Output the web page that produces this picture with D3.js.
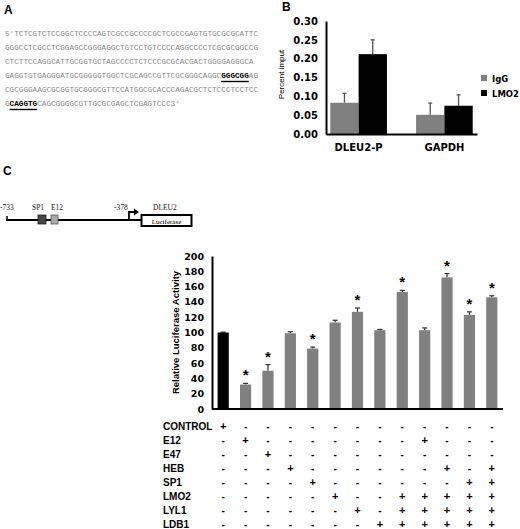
<!DOCTYPE html>
<html><head><meta charset="utf-8">
<script src="https://cdn.jsdelivr.net/npm/d3@7"></script>
<style>body{margin:0;background:#fff}svg{display:block}</style>
</head><body>
<script>
// ---------- DATA ----------
const seqLines = [
  [["5'TCTCGTCTCCGGCTCCCCAGTCGCCGCCCCGCTCGCCGAGTGTGCGCGCATTC", false]],
  [["GGGCCTCGCCTCGGAGCCGGGAGGCTGTCCTGTCCCCAGGCCCCTCGCGCGGCCG", false]],
  [["CTCTTCCAGGCATTGCGGTGCTAGCCCCTCTCCCGCGCACGACTGGGGAGGGCA", false]],
  [["GAGGTGTGAGGGATGCGGGGGTGGCTCGCAGCCGTTCGCGGGCAGGC", false], ["GGGCGG", true], ["AG", false]],
  [["CGCGGGAAGCGCGGTGCGGGCGTTCCATGGCGCACCCAGACGCTCTCCCTCCTCC", false]],
  [["G", false], ["CAGGTG", true], ["CAGCGGGGCGTTGCGCGAGCTCGAGTCCC3'", false]]
];

const chipGenes = ["DLEU2-P", "GAPDH"];
const chipSeries = ["IgG", "LMO2"];
const chipIgG = [0.083, 0.051];
const chipIgGErr = [0.025, 0.031];
const chipLMO2 = [0.212, 0.075];
const chipLMO2Err = [0.038, 0.029];
const chipTicks = [0, 0.05, 0.10, 0.15, 0.20, 0.25, 0.30];

const lucValues = [100, 32, 50, 99, 79, 113, 127, 103, 153, 103, 172, 123, 146];
const lucErrors = [0.5, 1.5, 8, 2, 2, 3, 5, 1, 2, 3, 5, 4, 2];
const lucStar = [false, true, true, false, true, false, true, false, true, false, true, true, true];
const lucTicks = [0, 20, 40, 60, 80, 100, 120, 140, 160, 180, 200];
const rowNames = ["CONTROL", "E12", "E47", "HEB", "SP1", "LMO2", "LYL1", "LDB1"];
const rowSigns = [
  "+------------",
  "-+-------+---",
  "--+----------",
  "---+------+-+",
  "----+------++",
  "-----+--+++++",
  "------+-+++++",
  "-------++++++"
];

// ---------- SVG ----------
const svg = d3.select("body").append("svg").attr("width", 520).attr("height", 529);
const bold = "'DejaVu Sans', Verdana, sans-serif";
const arial = "'Liberation Sans', Arial, sans-serif";
const serif = "'Liberation Serif', 'Times New Roman', serif";
const mono = "'Liberation Mono', 'Courier New', monospace";

// Panel labels
[["A", 4, 14], ["B", 282, 11], ["C", 3, 175]].forEach(([t, x, y]) =>
  svg.append("text").attr("x", x).attr("y", y).text(t)
    .attr("font-family", arial).attr("font-weight", "bold").attr("font-size", 12).attr("fill", "#000"));

// ---------- Panel A: sequence ----------
const seqG = svg.append("g");
const charW = 4.6;
seqLines.forEach((segs, i) => {
  const y = 36 + i * 14;
  let x = 5;
  const line = seqG.append("text").attr("y", y).attr("font-family", mono).attr("font-size", 7.6).attr("fill", "#8a8a8a");
  segs.forEach(([s, b]) => {
    const w = s.length * charW;
    const t = line.append("tspan").attr("x", x).text(s)
      .attr("textLength", w).attr("lengthAdjust", "spacingAndGlyphs");
    if (b) {
      t.attr("font-weight", "bold").attr("fill", "#000");
      seqG.append("line").attr("x1", x).attr("x2", x + w).attr("y1", y + 3.5).attr("y2", y + 3.5)
        .attr("stroke", "#000").attr("stroke-width", 1.4);
    }
    x += w;
  });
});

// ---------- Panel B: ChIP ----------
const bL = 326, bR = 477, bT = 21, bB = 134;
const yB = d3.scaleLinear().domain([0, 0.30]).range([bB, bT]);
const xB = d3.scaleBand().domain(chipGenes).range([bL, bR]).paddingInner(0.34).paddingOuter(0.05);
const xBs = d3.scaleBand().domain(chipSeries).range([0, xB.bandwidth()]);
const bG = svg.append("g");
const chipColors = {IgG: "#808080", LMO2: "#000"};
const chipData = chipGenes.map((g, i) => ({g, vals: [
  {s: "IgG", v: chipIgG[i], e: chipIgGErr[i]},
  {s: "LMO2", v: chipLMO2[i], e: chipLMO2Err[i]}]}));
chipData.forEach(d => {
  d.vals.forEach(v => {
    const x0 = xB(d.g) + xBs(v.s);
    const cx = x0 + xBs.bandwidth() / 2;
    bG.append("line").attr("x1", cx).attr("x2", cx).attr("y1", yB(v.v)).attr("y2", yB(v.v + v.e))
      .attr("stroke", "#555").attr("stroke-width", 1.3);
    bG.append("line").attr("x1", cx - 2).attr("x2", cx + 2).attr("y1", yB(v.v + v.e)).attr("y2", yB(v.v + v.e))
      .attr("stroke", "#555").attr("stroke-width", 1.3);
    bG.append("rect").attr("x", x0).attr("y", yB(v.v)).attr("width", xBs.bandwidth())
      .attr("height", yB(0) - yB(v.v)).attr("fill", chipColors[v.s]);
  });
});
const yAxB = d3.axisLeft(yB).tickValues(chipTicks).tickFormat(d3.format(".2f")).tickSize(0).tickPadding(8);
const gyB = bG.append("g").attr("transform", `translate(${bL},0)`).call(yAxB);
gyB.select(".domain").attr("stroke", "#000").attr("stroke-width", 2);
gyB.selectAll("text").attr("font-family", bold).attr("font-weight", "bold").attr("font-size", 10).attr("fill", "#000");
const xAxB = d3.axisBottom(xB).tickSize(0).tickPadding(10);
const gxB = bG.append("g").attr("transform", `translate(0,${bB})`).call(xAxB);
gxB.select(".domain").attr("stroke", "#000").attr("stroke-width", 2);
gxB.selectAll("text").attr("font-family", bold).attr("font-weight", "bold").attr("font-size", 10).attr("fill", "#000");
bG.append("text").attr("transform", `translate(284,${(bT + bB) / 2 - 3}) rotate(-90)`)
  .attr("text-anchor", "middle").attr("font-family", arial).attr("font-size", 8).text("Percent imput");
chipSeries.forEach((s, i) => {
  const y = 78 + i * 15;
  bG.append("rect").attr("x", 481).attr("y", y - 3).attr("width", 6).attr("height", 6).attr("fill", chipColors[s]);
  bG.append("text").attr("x", 492).attr("y", y + 3.5).text(s)
    .attr("font-family", bold).attr("font-weight", "bold").attr("font-size", 8.5).attr("fill", "#000");
});

// ---------- Panel C: construct diagram ----------
const dG = svg.append("g");
dG.append("line").attr("x1", 6).attr("x2", 141).attr("y1", 220).attr("y2", 220).attr("stroke", "#000").attr("stroke-width", 2);
dG.append("line").attr("x1", 7).attr("x2", 7).attr("y1", 216).attr("y2", 221).attr("stroke", "#000").attr("stroke-width", 1.5);
dG.append("rect").attr("x", 38).attr("y", 215).attr("width", 8).attr("height", 9).attr("fill", "#444").attr("stroke", "#222").attr("stroke-width", 0.8);
dG.append("rect").attr("x", 51).attr("y", 215).attr("width", 7).attr("height", 9).attr("fill", "#aaa").attr("stroke", "#555").attr("stroke-width", 0.8);
dG.append("path").attr("d", "M129,220 V212 H135").attr("fill", "none").attr("stroke", "#000").attr("stroke-width", 1.8);
dG.append("path").attr("d", "M134,208.5 L139,212 L134,215.5 Z").attr("fill", "#000");
dG.append("rect").attr("x", 141.5).attr("y", 215).attr("width", 50).attr("height", 11).attr("fill", "#fff").attr("stroke", "#000").attr("stroke-width", 2);
dG.append("text").attr("x", 166.5).attr("y", 223.5).attr("text-anchor", "middle").text("Luciferase")
  .attr("font-family", serif).attr("font-size", 7).attr("fill", "#000");
[["-733", 0], ["SP1", 32], ["E12", 51], ["-378", 114], ["DLEU2", 153]].forEach(([t, x]) =>
  dG.append("text").attr("x", x).attr("y", 210).text(t).attr("font-family", serif).attr("font-size", 7.5).attr("fill", "#222"));

// ---------- Panel C: luciferase bars ----------
const cL = 212, cR = 503, cT = 256, cB = 409;
const yC = d3.scaleLinear().domain([0, 200]).range([cB, cT]);
const xC = d3.scaleBand().domain(d3.range(lucValues.length)).range([cL, cR]).paddingInner(0.5).paddingOuter(0.25);
const cG = svg.append("g");
lucValues.forEach((v, i) => {
  const cx = xC(i) + xC.bandwidth() / 2;
  const top = yC(v + lucErrors[i]);
  cG.append("line").attr("x1", cx).attr("x2", cx).attr("y1", yC(v)).attr("y2", top).attr("stroke", "#333").attr("stroke-width", 1.2);
  cG.append("line").attr("x1", cx - 2.5).attr("x2", cx + 2.5).attr("y1", top).attr("y2", top).attr("stroke", "#333").attr("stroke-width", 1.2);
  cG.append("rect").attr("x", xC(i)).attr("y", yC(v)).attr("width", xC.bandwidth()).attr("height", yC(0) - yC(v))
    .attr("fill", i === 0 ? "#000" : "#808080");
  if (lucStar[i]) cG.append("text").attr("x", cx).attr("y", top - 3).attr("text-anchor", "middle").text("*")
    .attr("font-family", arial).attr("font-weight", "bold").attr("font-size", 15).attr("fill", "#000");
});
const gyC = cG.append("g").attr("transform", `translate(${cL},0)`)
  .call(d3.axisLeft(yC).tickValues(lucTicks).tickFormat(d3.format("d")).tickSize(0).tickPadding(8));
gyC.select(".domain").attr("stroke", "#000").attr("stroke-width", 2);
gyC.selectAll("text").attr("font-family", bold).attr("font-weight", "bold").attr("font-size", 9.5).attr("fill", "#000");
cG.append("line").attr("x1", cL).attr("x2", cR).attr("y1", cB).attr("y2", cB).attr("stroke", "#000").attr("stroke-width", 2);
cG.append("text").attr("transform", `translate(179,${(cT + cB) / 2}) rotate(-90)`).attr("text-anchor", "middle")
  .text("Relative Luciferase Activity").attr("font-family", arial).attr("font-weight", "bold").attr("font-size", 9.5).attr("fill", "#000");

// table
const tG = svg.append("g");
rowNames.forEach((r, j) => {
  const y = 430 + j * 14;
  tG.append("text").attr("x", 163).attr("y", y).text(r)
    .attr("font-family", arial).attr("font-weight", "bold").attr("font-size", 10).attr("fill", "#000");
  rowSigns[j].split("").forEach((s, i) => {
    tG.append("text").attr("x", xC(i) + xC.bandwidth() / 2).attr("y", y).attr("text-anchor", "middle").text(s)
      .attr("font-family", arial).attr("font-weight", "bold").attr("font-size", s === "+" ? 11 : 10).attr("fill", "#000");
  });
});
</script>
</body></html>
